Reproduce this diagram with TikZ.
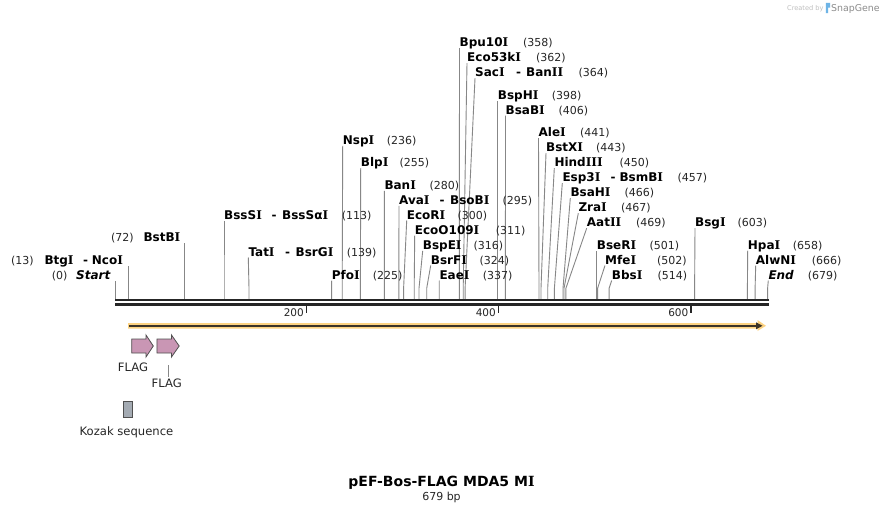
\documentclass[tikz,border=0pt]{standalone}
\usepackage{fontspec}
\setmainfont{DejaVu Sans}
\newfontfamily\serifIfont{DejaVu Serif}
\newcommand\vI{{\serifIfont I}}
\usetikzlibrary{calc}
\definecolor{cutgray}{RGB}{135,135,135}
\definecolor{bbcol}{RGB}{38,38,38}
\definecolor{glow}{RGB}{253,211,130}
\definecolor{featline}{RGB}{60,52,40}
\definecolor{flagpink}{RGB}{201,150,180}
\definecolor{kozakgray}{RGB}{164,171,179}
\definecolor{outl}{RGB}{80,80,80}
\definecolor{logoblue}{RGB}{110,180,230}
\newcommand\nmfont{\fontsize{12}{14}\selectfont\bfseries}
\newcommand\nbfont{\fontsize{11}{13}\selectfont}
\tikzset{
  enz/.style={font=\nmfont, anchor=base west, inner sep=0pt, text=black},
  num/.style={font=\nbfont, anchor=base west, inner sep=0pt, text=black!85},
  cut/.style={draw=cutgray, line width=0.9pt},
  bb/.style={draw=bbcol, line width=2.3pt},
  tickmark/.style={draw=bbcol, line width=1.8pt},
  ticklbl/.style={font=\fontsize{10.5}{12}\selectfont, anchor=base east, inner sep=0pt, text=black!85},
  featlbl/.style={font=\fontsize{11.6}{13}\selectfont, anchor=base, inner sep=0pt, text=black!85},
  flagarrow/.style={fill=flagpink, draw=outl, line width=0.8pt, line join=miter},
}
% right-hand label: id, pos x, label x, baseline, name, number x, number
\newcommand\enzR[7]{%
  \node[enz] (#1) at (#3,#4) {#5};
  \node[num] (#1n) at (#6,#4) {#7};
  \coordinate (#1p) at (#2,298.8);
  \draw[cut] (#1p) -- ++(0,-10.5) -- ($(#1.base west)+(0,1.5)$);
}
% left-hand label: id, pos x, baseline, number x, number, name x, name
\newcommand\enzL[7]{%
  \node[num] (#1n) at (#4,#3) {#5};
  \node[enz] (#1) at (#6,#3) {#7};
  \coordinate (#1p) at (#2,298.8);
  \coordinate (#1t) at (#2,#3+1.5);
  \draw[cut] (#1p) -- (#1t);
}
\begin{document}
\begin{tikzpicture}[x=1pt,y=-1pt]
\useasboundingbox (0,0) rectangle (884,512);
\fill[white] (0,0) rectangle (884,512);

% watermark
\node[font=\fontsize{6.6}{8}\selectfont, text=black!25, anchor=base west, inner sep=0pt] (wm1) at (787,10.5) {Created by};
\fill[logoblue] (825.8,2.8) -- (830,2.8) -- (830,7.5) -- (828.2,7.5) -- (828.2,13) -- (825.8,13) -- cycle;
\node[font=\fontsize{9.4}{10}\selectfont, text=black!45, anchor=base west, inner sep=0pt] (wm2) at (831,11.5) {SnapGene};

% enzyme sites (right-hand labels)
\enzR{bpu}{459.3}{459.5}{46.7}{Bpu10\vI}{523}{(358)}
\enzR{ecofs}{463.2}{467}{61.7}{Eco53k\vI}{536}{(362)}
\enzR{sac}{465.1}{475}{76.7}{Sac\vI}{578.3}{(364)}
\node[enz] (sacd) at (516,76.7) {-};
\node[enz] (sacb) at (526,76.7) {Ban\vI\vI};
\enzR{bsphi}{497.7}{497.7}{99}{BspH\vI}{551.7}{(398)}
\enzR{bsabi}{505.4}{505.5}{114}{BsaB\vI}{558.3}{(406)}
\enzR{alei}{539}{538.5}{136.7}{Ale\vI}{580}{(441)}
\enzR{bstxi}{541}{546}{151.7}{BstX\vI}{596}{(443)}
\enzR{hind}{547.7}{554.3}{166.7}{Hind\vI\vI\vI}{619.3}{(450)}
\enzR{esp}{554.4}{562.3}{181.7}{Esp3\vI}{677.3}{(457)}
\node[enz] (espd) at (610.5,181.7) {-};
\node[enz] (espb) at (619.3,181.7) {BsmB\vI};
\enzR{bsahi}{563}{570.3}{196.7}{BsaH\vI}{624.3}{(466)}
\enzR{zrai}{564}{578.3}{211.7}{Zra\vI}{621}{(467)}
\enzR{aatii}{565.9}{586.7}{226.7}{Aat\vI\vI}{636}{(469)}
\enzR{bseri}{596.7}{596.7}{249}{BseR\vI}{649.3}{(501)}
\enzR{mfei}{597.6}{605}{264}{Mfe\vI}{657}{(502)}
\enzR{bbsi}{609.1}{611.7}{279}{Bbs\vI}{657.3}{(514)}
\enzR{bsgi}{694.6}{695}{226.7}{Bsg\vI}{737.3}{(603)}
\enzR{hpai}{747.4}{747.7}{249}{Hpa\vI}{792.7}{(658)}
\enzR{alwni}{755.1}{755.7}{264}{AlwN\vI}{811.7}{(666)}
\enzR{endm}{767.6}{768.3}{279}{\itshape End}{807.7}{(679)}
\enzR{nspi}{342.2}{342.7}{144.3}{Nsp\vI}{386.7}{(236)}
\enzR{blpi}{360.4}{360.7}{166.7}{Blp\vI}{399.3}{(255)}
\enzR{bani}{384.4}{384.3}{189.3}{Ban\vI}{429.3}{(280)}
\enzR{avai}{398.8}{399}{204.3}{Ava\vI}{502.3}{(295)}
\node[enz] (avad) at (439.5,204.3) {-};
\node[enz] (avab) at (450,204.3) {BsoB\vI};
\enzR{ecori}{403.6}{406.7}{219}{EcoR\vI}{457.3}{(300)}
\enzR{ecoo}{414.2}{414.7}{234}{EcoO109\vI}{495.7}{(311)}
\enzR{bspei}{419}{422.7}{249.3}{BspE\vI}{473.3}{(316)}
\enzR{bsrfi}{426.7}{430.7}{264}{BsrF\vI}{479.3}{(324)}
\enzR{eaei}{439.2}{439.3}{279}{Eae\vI}{482.7}{(337)}
\enzR{pfoi}{331.6}{331.7}{279}{Pfo\vI}{372.7}{(225)}
\enzR{bsssi}{224}{224}{219}{BssS\vI}{341.7}{(113)}
\node[enz] (bsssd) at (271.5,219) {-};
\node[enz] (bsssb) at (282,219) {BssSα\vI};
\enzR{tati}{249}{248.3}{256}{Tat\vI}{346.7}{(139)}
\node[enz] (tatd) at (285,256) {-};
\node[enz] (tatb) at (295.5,256) {BsrG\vI};

% enzyme sites (left-hand labels)
\enzL{bstbi}{184.6}{241}{111}{(72)}{143.3}{BstB\vI}
\enzL{btgi}{128}{264.3}{11}{(13)}{44.3}{Btg\vI}
\node[enz] (btgd) at (83,264.3) {-};
\node[enz] (btgb) at (91.7,264.3) {Nco\vI};
\enzL{start}{115.8}{279.3}{51.7}{(0)}{76}{\itshape Start}

% backbone
\draw[bb] (115.3,300.3) -- (768.8,300.3);
\draw[bb] (115.3,304.6) -- (768.8,304.6);

% ticks
\coordinate (t200) at (306.5,305.5);
\coordinate (t400) at (498.5,305.5);
\coordinate (t600) at (691,305.5);
\draw[tickmark] (t200) -- ++(0,7.5);
\draw[tickmark] (t400) -- ++(0,7.5);
\draw[tickmark] (t600) -- ++(0,7.5);
\node[ticklbl] (l200) at (304,316.5) {200};
\node[ticklbl] (l400) at (496,316.5) {400};
\node[ticklbl] (l600) at (688.5,316.5) {600};

% feature arrow (highlighted)
\fill[glow] (128,323) -- (757.5,323) -- (757.5,320) -- (766,325.8) -- (757.5,331) -- (757.5,328.6) -- (128,328.6) -- cycle;
\draw[featline, line width=1.8pt] (129,325.8) -- (757,325.8);
\fill[featline] (756,322.3) -- (762.5,325.8) -- (756,329.3) -- cycle;

% FLAG features
\filldraw[flagarrow] (131.7,339) -- (146,339) -- (146,335) -- (153.3,346) -- (146,357) -- (146,353) -- (131.7,353) -- cycle;
\filldraw[flagarrow] (156.9,339) -- (171.5,339) -- (171.5,335) -- (179.2,346) -- (171.5,357) -- (171.5,353) -- (156.9,353) -- cycle;
\node[featlbl] (flag1) at (133,371.8) {FLAG};
\node[featlbl] (flag2) at (166.7,387.5) {FLAG};
\coordinate (flag2top) at (168,365);
\draw[cutgray, line width=0.8pt] (flag2top) -- ($(flag2.north)+(1.3,-1.5)$);

% Kozak sequence
\filldraw[fill=kozakgray, draw=outl, line width=0.8pt] (123.3,401.3) rectangle (132.3,417);
\node[featlbl] (kozak) at (126.5,435.5) {Kozak sequence};

% title
\node[font=\fontsize{14}{16}\selectfont\bfseries, anchor=base, inner sep=0pt] (title) at (441.5,486) {pEF-Bos-FLAG MDA5 M\vI};
\node[font=\fontsize{11}{13}\selectfont, anchor=base, inner sep=0pt, text=black!85] (len) at (441.5,500) {679 bp};
\end{tikzpicture}
\end{document}
